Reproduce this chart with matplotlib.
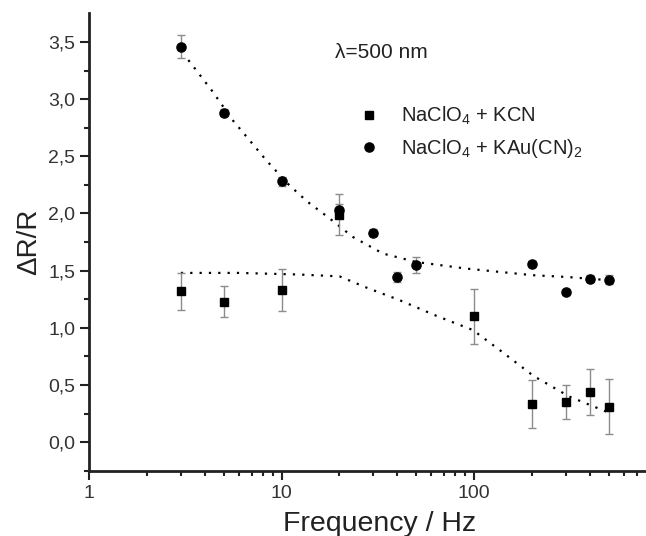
import matplotlib
matplotlib.use("Agg")
import matplotlib.pyplot as plt
from matplotlib.ticker import FixedLocator, FuncFormatter, LogLocator, NullFormatter
from matplotlib.lines import Line2D

plt.rcParams['font.family'] = ['Liberation Sans', 'DejaVu Sans']
plt.rcParams['mathtext.default'] = 'regular'

# NaClO4 + KCN (squares)
freq_kcn = [3, 5, 10, 20, 100, 200, 300, 400, 500]
dr_kcn = [1.32, 1.23, 1.33, 1.99, 1.10, 0.33, 0.35, 0.44, 0.31]
err_kcn = [0.16, 0.135, 0.18, 0.18, 0.24, 0.21, 0.15, 0.20, 0.24]

# NaClO4 + KAu(CN)2 (circles)
freq_au = [3, 5, 10, 20, 30, 40, 50, 200, 300, 400, 500]
dr_au = [3.46, 2.88, 2.28, 2.03, 1.83, 1.445, 1.553, 1.562, 1.312, 1.431, 1.419]
err_au = [0.097, 0.03, 0.04, 0.05, 0.03, 0.04, 0.07, 0.02, 0.02, 0.03, 0.04]

# dotted guide curves
fit_au_x = [3.28, 3.62, 4.35, 5.6, 6.84, 8.35, 11.0, 13.7, 17.4, 23.5, 33.7, 50, 91, 202, 301, 506]
fit_au_y = [3.342, 3.249, 3.074, 2.812, 2.638, 2.463, 2.245, 2.1, 1.969, 1.794, 1.649, 1.576, 1.518, 1.46, 1.445, 1.416]
fit_kcn_x = [3, 6, 12.4, 20, 27.6, 41, 63.7, 98.7, 136, 204, 313, 486]
fit_kcn_y = [1.48, 1.48, 1.466, 1.45, 1.352, 1.242, 1.105, 0.98, 0.805, 0.578, 0.398, 0.267]

fig = plt.figure(figsize=(6.46, 5.36), dpi=100)
ax = fig.add_axes([0.1378, 0.1218, 0.8602, 0.8532])

ax.plot(fit_au_x, fit_au_y, color='black', lw=1.6, ls=(0, (1, 3.2)))
ax.plot(fit_kcn_x, fit_kcn_y, color='black', lw=1.6, ls=(0, (1, 3.2)))

ax.errorbar(freq_kcn, dr_kcn, yerr=err_kcn, fmt='none', ecolor='#8c8c8c',
            elinewidth=1.0, capsize=3, capthick=1.0)
ax.errorbar(freq_au, dr_au, yerr=err_au, fmt='none', ecolor='#8c8c8c',
            elinewidth=1.0, capsize=3, capthick=1.0)
ax.plot(freq_au, dr_au, 'o', color='black', ms=6.6, ls='none')
ax.plot(freq_kcn, dr_kcn, 's', color='black', ms=6.0, ls='none')

ax.set_xscale('log')
ax.set_xlim(1, 770)
ax.set_ylim(-0.25, 3.75)

ax.xaxis.set_major_locator(FixedLocator([1, 10, 100]))
ax.xaxis.set_major_formatter(FuncFormatter(lambda v, p: f"{v:g}"))
ax.xaxis.set_minor_locator(LogLocator(base=10, subs=range(2, 10)))
ax.xaxis.set_minor_formatter(NullFormatter())

ax.yaxis.set_major_locator(FixedLocator([0, 0.5, 1.0, 1.5, 2.0, 2.5, 3.0, 3.5]))
ax.yaxis.set_minor_locator(FixedLocator([-0.25, 0.25, 0.75, 1.25, 1.75, 2.25, 2.75, 3.25]))
ax.yaxis.set_major_formatter(FuncFormatter(lambda v, p: f"{v:.1f}".replace('.', ',')))

for side in ['top', 'right']:
    ax.spines[side].set_visible(False)
for side in ['left', 'bottom']:
    ax.spines[side].set_linewidth(2.0)
    ax.spines[side].set_color('#222222')

ax.tick_params(which='major', direction='out', length=6.5, width=1.5, colors='#222222',
               labelsize=14, labelcolor='#333333')
ax.tick_params(which='minor', direction='out', length=3.5, width=1.5, colors='#222222')

ax.set_xlabel('Frequency / Hz', fontsize=20.5, color='#222222')
ax.xaxis.set_label_coords(0.523, -0.088, transform=ax.transAxes)
ax.xaxis.label.set_va('top')
ax.set_ylabel('ΔR/R', fontsize=20, color='#222222', labelpad=4)

fig.text(335 / 646, 1 - 52 / 536, 'λ=500 nm', fontsize=15, color='#222222',
         ha='left', va='center')

handles = [
    Line2D([], [], marker='s', color='black', ls='none', ms=6.0),
    Line2D([], [], marker='o', color='black', ls='none', ms=6.6),
]
labels = ['NaClO$_4$ + KCN', 'NaClO$_4$ + KAu(CN)$_2$']
leg = fig.legend(handles, labels, loc='upper left', bbox_to_anchor=(360 / 646, 1 - 105 / 536),
                 frameon=False, fontsize=14.5, handlelength=0.9, handletextpad=1.15,
                 labelspacing=0.5, borderpad=0, borderaxespad=0)
for t in leg.get_texts():
    t.set_color('#222222')

fig.savefig('out.png', dpi=100)
